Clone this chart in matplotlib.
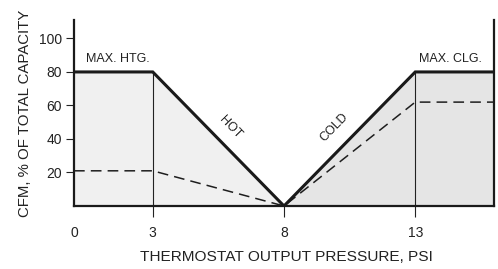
import matplotlib
matplotlib.use("Agg")
import matplotlib.pyplot as plt

plt.rcParams['font.family'] = ['Liberation Sans', 'DejaVu Sans']

# Data
pressure = [0, 3, 8, 13, 16]
max_cfm = [80, 80, 0, 80, 80]
min_cfm = [21, 21, 0, 62, 62]
xticks = [0, 3, 8, 13]
yticks = [20, 40, 60, 80, 100]
xlabel = "THERMOSTAT OUTPUT PRESSURE, PSI"
ylabel = "CFM, % OF TOTAL CAPACITY"

fig = plt.figure(figsize=(4.98, 2.69), dpi=100)
ax = fig.add_axes([74/498, 1-206/269, 420/498, 186/269])
ax.set_xlim(0, 16)
ax.set_ylim(0, 111)

# fills
ax.fill_between(pressure[:3], 0, max_cfm[:3], color='#f0f0f0', lw=0, zorder=1)
ax.fill_between(pressure[2:], 0, max_cfm[2:], color='#e5e5e5', lw=0, zorder=1)

# vertical thin lines at 3 and 13
for xv in (3, 13):
    ax.plot([xv, xv], [0, 80], color='#222222', lw=0.8, zorder=2)

ax.plot(pressure, min_cfm, color='#1e1e1e', lw=1.1, dashes=(7, 4), zorder=3)
ax.plot(pressure, max_cfm, color='#1a1a1a', lw=2.2, zorder=4, solid_joinstyle='miter')

ax.spines['top'].set_visible(False)
for s in ('left', 'bottom', 'right'):
    ax.spines[s].set_linewidth(1.6)
    ax.spines[s].set_color('#1a1a1a')

ax.set_xticks(xticks)
ax.set_xticklabels([str(v) for v in xticks], fontsize=10)
ax.set_yticks(yticks)
ax.set_yticklabels([str(v) for v in yticks], fontsize=10)
ax.tick_params(axis='x', length=8, width=0.8, pad=6.5, colors='#222222')
ax.tick_params(axis='y', length=5.8, width=0.8, pad=3, colors='#222222')
ax.xaxis.get_major_ticks()[0].tick1line.set_visible(False)

ax.set_xlabel(xlabel, fontsize=11.1, color='#222222')
ax.set_ylabel(ylabel, fontsize=10.8, color='#222222')
ax.xaxis.set_label_coords(0.505, -0.237)
ax.yaxis.set_label_coords(-0.1, 0.5)

ax.text(1.65, 88, "MAX. HTG.", fontsize=9, ha='center', va='center', color='#222222')
ax.text(14.35, 88, "MAX. CLG.", fontsize=9, ha='center', va='center', color='#222222')
ax.text(5.95, 47, "HOT", fontsize=9, ha='center', va='center', rotation=-46, color='#222222')
ax.text(9.92, 46.6, "COLD", fontsize=9, ha='center', va='center', rotation=46, color='#222222')

fig.savefig("out.png", dpi=100)
